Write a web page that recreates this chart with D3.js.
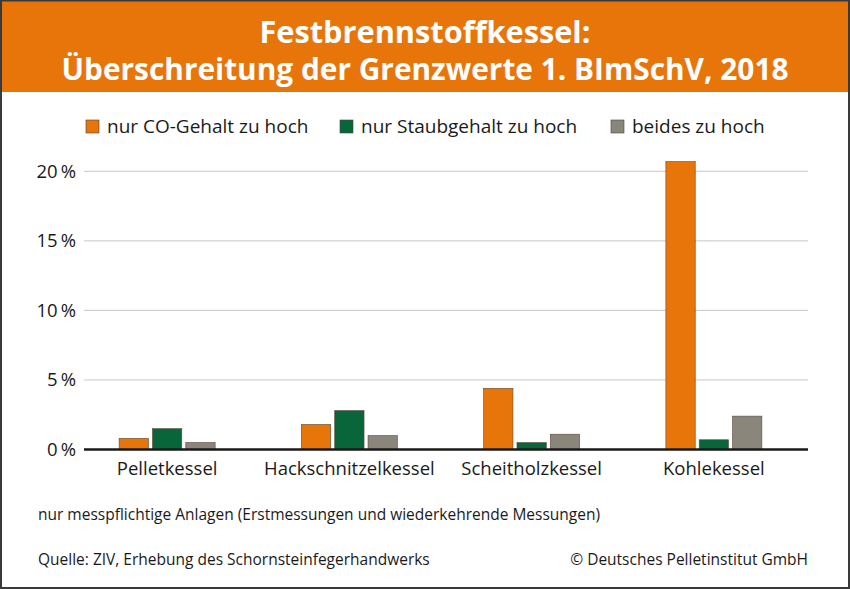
<!DOCTYPE html>
<html>
<head>
<meta charset="utf-8">
<script src="https://cdn.jsdelivr.net/npm/d3@7"></script>
<style>
    body { margin: 0; background: #fff; }
    svg text { font-family: "Open Sans", "Noto Sans", sans-serif; fill: #1a1a1a; }
</style>
</head>
<body>
<svg id="chart" width="850" height="589"></svg>
<script>
// Chart data
const categories = ["Pelletkessel", "Hackschnitzelkessel", "Scheitholzkessel", "Kohlekessel"];
const seriesNames = ["nur CO-Gehalt zu hoch", "nur Staubgehalt zu hoch", "beides zu hoch"];
const coOnly = [0.8, 1.8, 4.4, 20.7];
const dustOnly = [1.5, 2.8, 0.5, 0.7];
const both = [0.5, 1.0, 1.1, 2.4];
const yTicks = [0, 5, 10, 15, 20];

const colors = ["#e8750a", "#08663a", "#8a867c"];
const width = 850, height = 589;

let svg = d3.select("#chart");

// Frame and title band
function drawFrame() {
    svg.append("rect")
       .attr("x", 0).attr("y", 0)
       .attr("width", width).attr("height", height)
       .attr("fill", "#fff");

    svg.append("rect")
       .attr("x", 0).attr("y", 0)
       .attr("width", width).attr("height", 92)
       .attr("fill", "#e8750a");

    svg.append("text")
       .attr("x", width / 2).attr("y", 43)
       .attr("text-anchor", "middle")
       .attr("textLength", 331).attr("lengthAdjust", "spacingAndGlyphs")
       .style("font-family", "'Open Sans', sans-serif")
       .style("font-weight", "bold").style("font-size", "30px").style("fill", "#fff")
       .text("Festbrennstoffkessel:");

    svg.append("text")
       .attr("x", width / 2).attr("y", 80)
       .attr("text-anchor", "middle")
       .attr("textLength", 727).attr("lengthAdjust", "spacingAndGlyphs")
       .style("font-family", "'Open Sans', sans-serif")
       .style("font-weight", "bold").style("font-size", "30px").style("fill", "#fff")
       .text("Überschreitung der Grenzwerte 1. BImSchV, 2018");

    svg.append("rect")
       .attr("x", 1).attr("y", 0.5)
       .attr("width", width - 2).attr("height", height - 1.5)
       .attr("fill", "none")
       .attr("stroke", "#3a3a3a").attr("stroke-width", 2);
}

// Legend above the plot
function drawLegend() {
    let legendX = [86, 340, 611];
    let legend = svg.append("g");
    seriesNames.forEach((name, i) => {
        legend.append("rect")
              .attr("x", legendX[i]).attr("y", 120)
              .attr("width", 13).attr("height", 13)
              .attr("fill", colors[i])
              .attr("stroke", "#444").attr("stroke-width", 0.6);
        legend.append("text")
              .attr("x", legendX[i] + 21).attr("y", 133)
              .style("font-size", "19px")
              .text(name);
    });
}

// Bars, axes and gridlines
function drawPlot() {
    let x = d3.scaleBand()
              .domain(categories)
              .range([76, 805]);

    let xInner = d3.scaleBand()
                   .domain(seriesNames)
                   .range([0, 96])
                   .paddingInner(0.12);

    let y = d3.scaleLinear()
              .domain([0, 20])
              .range([449.5, 171.3]);

    // Gridlines
    svg.append("g")
       .selectAll("line")
       .data(yTicks.filter(t => t > 0))
       .enter()
       .append("line")
       .attr("x1", 84).attr("x2", 808)
       .attr("y1", d => y(d)).attr("y2", d => y(d))
       .attr("stroke", "#c8c8c8").attr("stroke-width", 1);

    // Y tick labels
    svg.append("g")
       .selectAll("text")
       .data(yTicks)
       .enter()
       .append("text")
       .attr("x", 76)
       .attr("y", d => y(d) + 6.5)
       .attr("text-anchor", "end")
       .style("font-size", "18.5px")
       .text(d => d + "\u2009%");

    let rows = categories.map((c, i) => [coOnly[i], dustOnly[i], both[i]]);

    let groups = svg.append("g")
                    .selectAll("g")
                    .data(rows)
                    .enter()
                    .append("g")
                    .attr("transform", (d, i) => `translate(${x(categories[i]) + x.bandwidth() / 2 - 48},0)`);

    groups.selectAll("rect")
          .data(d => d.map((v, j) => ({ name: seriesNames[j], value: v, color: colors[j] })))
          .enter()
          .append("rect")
          .attr("x", d => xInner(d.name))
          .attr("width", xInner.bandwidth())
          .attr("y", d => y(d.value))
          .attr("height", d => y(0) - y(d.value))
          .attr("fill", d => d.color)
          .attr("stroke", "#5a4a3a").attr("stroke-width", 0.6);

    // Baseline
    svg.append("line")
       .attr("x1", 84).attr("x2", 808)
       .attr("y1", y(0)).attr("y2", y(0))
       .attr("stroke", "#1a1a1a").attr("stroke-width", 2.5);

    // Category labels
    svg.append("g")
       .selectAll("text")
       .data(categories)
       .enter()
       .append("text")
       .attr("x", d => x(d) + x.bandwidth() / 2)
       .attr("y", 475)
       .attr("text-anchor", "middle")
       .style("font-size", "18.5px")
       .text(d => d);
}

// Footnote and source lines
function drawNotes() {
    svg.append("text")
       .attr("x", 38).attr("y", 520)
       .style("font-size", "15.5px")
       .text("nur messpflichtige Anlagen (Erstmessungen und wiederkehrende Messungen)");

    svg.append("text")
       .attr("x", 38).attr("y", 565)
       .style("font-size", "15.5px")
       .text("Quelle: ZIV, Erhebung des Schornsteinfegerhandwerks");

    svg.append("text")
       .attr("x", 808).attr("y", 565)
       .attr("text-anchor", "end")
       .style("font-size", "15.5px")
       .text("© Deutsches Pelletinstitut GmbH");
}

drawFrame();
drawLegend();
drawPlot();
drawNotes();
</script>
</body>
</html>
